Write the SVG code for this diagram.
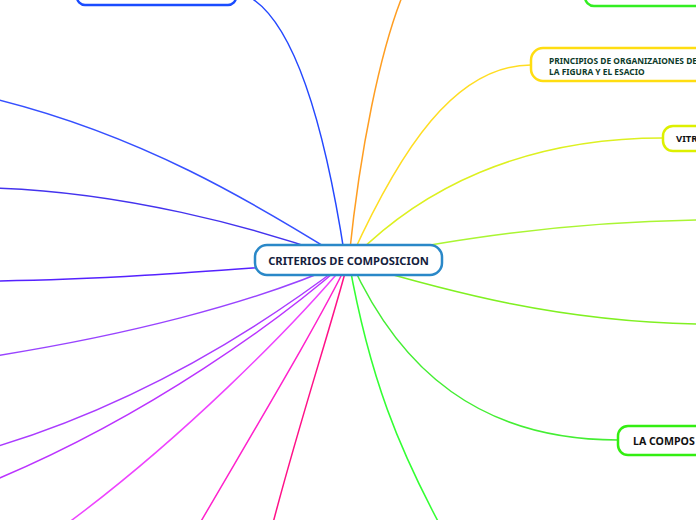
<svg xmlns="http://www.w3.org/2000/svg" width="696" height="520" viewBox="0 0 696 520">
<style>
.c{fill:none;stroke-width:1.5;stroke-linecap:round}
.n{fill:#fff;stroke-width:2.5}
.t{font-family:"Noto Sans","Open Sans","DejaVu Sans",sans-serif;font-weight:bold}
</style>
<rect width="696" height="520" fill="#fff"/>
<g id="connectors">
<path class="c" stroke="#2448ff" d="M345,258 C330,160 300,10 238,-8"/>
<path class="c" stroke="#ff9e22" d="M349,258 C360,150 380,50 404,-8"/>
<path class="c" stroke="#ffdd22" d="M351,258 C400,150 455,65 531,65"/>
<path class="c" stroke="#ddf020" d="M353,258 C420,190 520,138 663,138"/>
<path class="c" stroke="#aaf533" d="M348,260 C450,240 560,222 700,220"/>
<path class="c" stroke="#80f022" d="M348,262 C450,292 560,322 700,324"/>
<path class="c" stroke="#44ee33" d="M351,262 C400,370 480,440 618,440"/>
<path class="c" stroke="#33ff33" d="M349,262 C370,380 400,450 440,525"/>
<path class="c" stroke="#3650ff" d="M-5,99 C140,135 250,200 346,260"/>
<path class="c" stroke="#4433ee" d="M-5,188 C120,192 250,225 346,260"/>
<path class="c" stroke="#5522ff" d="M-5,281 C100,280 200,272 346,261"/>
<path class="c" stroke="#9944ff" d="M-5,356 C120,336 250,305 346,262"/>
<path class="c" stroke="#aa3bff" d="M-5,447 C150,400 270,320 346,262"/>
<path class="c" stroke="#bb33ff" d="M-5,480 C150,415 280,320 346,262"/>
<path class="c" stroke="#ee44ff" d="M68,523 C180,440 290,330 347,262"/>
<path class="c" stroke="#ff22cc" d="M200,523 C260,420 320,320 348,262"/>
<path class="c" stroke="#ff1188" d="M273,523 C300,420 330,330 348,262"/>
</g>
<g id="node-center">
<rect class="n" x="255" y="245" width="187" height="30" rx="12" stroke="#2a88c8" stroke-width="3"/>
<text class="t" x="348.5" y="264.5" font-size="11.2" fill="#14213d" text-anchor="middle">CRITERIOS DE COMPOSICION</text>
</g>
<g id="node-topleft">
<rect class="n" x="77" y="-25" width="159" height="30" rx="8" stroke="#1a4cff"/>
</g>
<g id="node-topright">
<rect class="n" x="585" y="-25" width="130" height="31" rx="9" stroke="#33ee22"/>
</g>
<g id="node-principios">
<rect class="n" x="531" y="48" width="180" height="33" rx="12" stroke="#ffdd11"/>
<text class="t" x="549" y="64" font-size="8.4" fill="#0d3b2a">PRINCIPIOS DE ORGANIZAIONES DE</text>
<text class="t" x="549" y="75" font-size="8.4" fill="#0d3b2a">LA FIGURA Y EL ESACIO</text>
</g>
<g id="node-vitr">
<rect class="n" x="663" y="126" width="60" height="25" rx="10" stroke="#ddf000"/>
<text class="t" x="676" y="141.5" font-size="9.5" fill="#111">VITR</text>
</g>
<g id="node-lacompos">
<rect class="n" x="618" y="426" width="100" height="29" rx="10" stroke="#33ee11"/>
<text class="t" x="633" y="444.5" font-size="10.6" fill="#111">LA COMPOS</text>
</g>
</svg>
